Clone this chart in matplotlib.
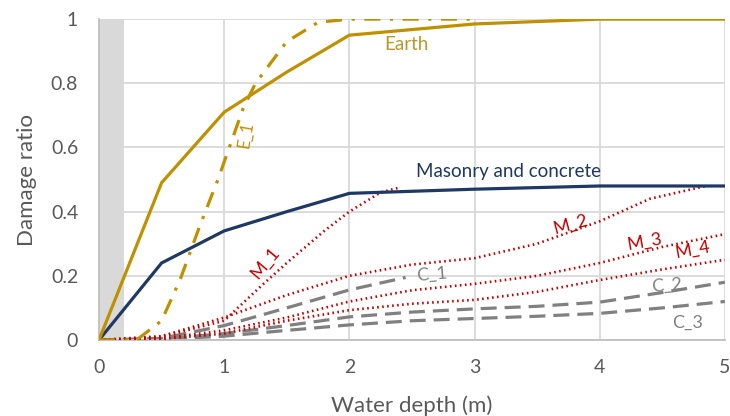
import matplotlib
matplotlib.use("Agg")
import matplotlib.pyplot as plt

plt.rcParams['font.family'] = ['Lato', 'DejaVu Sans']

# ---- data ----
shade_range = [0, 0.2]

earth_x = [0, 0.5, 1, 1.5, 2, 3, 4, 5]
earth_y = [0, 0.49, 0.71, 0.835, 0.95, 0.985, 1.0, 1.0]

e1_x = [0, 0.3, 0.5, 0.65, 0.8, 0.95, 1.05, 1.15, 1.25, 1.5, 1.75, 2, 3]
e1_y = [0, 0, 0.06, 0.19, 0.35, 0.5, 0.61, 0.72, 0.8, 0.93, 0.99, 1.0, 1.0]

mas_x = [0, 0.5, 1, 1.5, 2, 3, 4, 5]
mas_y = [0, 0.24, 0.34, 0.40, 0.457, 0.47, 0.48, 0.48]

m1_x = [0, 0.5, 1, 1.3, 1.5, 1.8, 2, 2.25, 2.4]
m1_y = [0, 0.01, 0.06, 0.17, 0.24, 0.34, 0.40, 0.46, 0.475]

m_x = [0, 0.5, 1, 1.5, 2, 2.5, 3, 3.5, 4, 4.5, 5]
m2_x = [0, 0.5, 1, 1.5, 2, 2.5, 3, 3.5, 4, 4.4, 4.85]
m2_y = [0, 0.012, 0.07, 0.14, 0.20, 0.235, 0.255, 0.30, 0.37, 0.44, 0.48]
m3_y = [0, 0.005, 0.03, 0.07, 0.12, 0.155, 0.175, 0.20, 0.24, 0.29, 0.33]
m4_y = [0, 0.003, 0.02, 0.06, 0.093, 0.113, 0.125, 0.15, 0.187, 0.22, 0.25]

c1_x = [0, 0.5, 1, 1.5, 2, 2.45]
c1_y = [0, 0.005, 0.045, 0.10, 0.156, 0.195]
c_x = [0, 0.5, 1, 1.5, 2, 2.5, 3, 3.5, 4, 4.5, 5]
c2_y = [0, 0.003, 0.02, 0.045, 0.072, 0.087, 0.097, 0.105, 0.118, 0.148, 0.18]
c3_y = [0, 0.002, 0.012, 0.03, 0.047, 0.06, 0.067, 0.074, 0.083, 0.10, 0.12]

x_ticks = [0, 1, 2, 3, 4, 5]
y_ticks = [0, 0.2, 0.4, 0.6, 0.8, 1.0]
y_ticklabels = ["0", "0.2", "0.4", "0.6", "0.8", "1"]

# ---- styles ----
GOLD = "#BF9000"
NAVY = "#1F3864"
RED = "#C00000"
GRAY = "#808080"
TXT = "#595959"

fig = plt.figure(figsize=(7.3, 4.16), dpi=100)
ax = fig.add_axes([0.1356, 0.1827, 0.8574, 0.7713])

ax.axvspan(shade_range[0], shade_range[1], color="#D9D9D9", lw=0, zorder=0)

dash = (0, (5, 2.5))
ax.plot(c1_x, c1_y, color=GRAY, lw=2.3, ls=dash, zorder=2)
ax.plot(c_x, c2_y, color=GRAY, lw=2.3, ls=dash, zorder=2)
ax.plot(c_x, c3_y, color=GRAY, lw=2.3, ls=dash, zorder=2)

dot = (0, (0.6, 1.3))
ax.plot(m1_x, m1_y, color=RED, lw=1.9, ls=dot, zorder=3)
ax.plot(m2_x, m2_y, color=RED, lw=1.9, ls=dot, zorder=3)
ax.plot(m_x, m3_y, color=RED, lw=1.9, ls=dot, zorder=3)
ax.plot(m_x, m4_y, color=RED, lw=1.9, ls=dot, zorder=3)

ax.plot(mas_x, mas_y, color=NAVY, lw=2.3, zorder=4)
ax.plot(e1_x, e1_y, color=GOLD, lw=2.3, ls=(0, (5, 3, 1, 3)), zorder=4)
ax.plot(earth_x, earth_y, color=GOLD, lw=2.3, zorder=5)

# labels
ax.text(2.46, 0.92, "Earth", color="#B8962E", fontsize=13.5, ha="center", va="center")
ax.text(3.27, 0.525, "Masonry and concrete", color=NAVY, fontsize=13.5, ha="center", va="center")
ax.text(1.17, 0.64, "E_1", color=GOLD, fontsize=12, ha="center", va="center", rotation=80)
ax.text(1.33, 0.24, "M_1", color=RED, fontsize=13, ha="center", va="center", rotation=50)
ax.text(3.77, 0.36, "M_2", color=RED, fontsize=13, ha="center", va="center", rotation=15)
ax.text(4.36, 0.305, "M_3", color=RED, fontsize=13, ha="center", va="center", rotation=10)
ax.text(4.74, 0.28, "M_4", color=RED, fontsize=13, ha="center", va="center", rotation=10)
ax.text(2.66, 0.205, "C_1", color=GRAY, fontsize=13, ha="center", va="center", rotation=5)
ax.text(4.54, 0.17, "C_2", color=GRAY, fontsize=13, ha="center", va="center", rotation=5)
ax.text(4.70, 0.055, "C_3", color=GRAY, fontsize=13, ha="center", va="center", rotation=0)

ax.set_xlim(0, 5)
ax.set_ylim(0, 1)
ax.set_xticks(x_ticks)
ax.set_yticks(y_ticks)
ax.set_yticklabels(y_ticklabels)
ax.grid(True, color="#D9D9D9", lw=1.3, zorder=1)
ax.set_axisbelow(True)
for s in ["top", "right"]:
    ax.spines[s].set_visible(False)
for s in ["left", "bottom"]:
    ax.spines[s].set_color("#BFBFBF")
    ax.spines[s].set_linewidth(1.3)
ax.tick_params(length=0, labelsize=14, labelcolor=TXT)
ax.tick_params(axis="y", pad=15)
ax.tick_params(axis="x", pad=14)
ax.set_xlabel("Water depth (m)", fontsize=16, color=TXT, labelpad=14)
ax.set_ylabel("Damage ratio", fontsize=16, color=TXT, labelpad=10)

fig.savefig("out.png", dpi=100)
